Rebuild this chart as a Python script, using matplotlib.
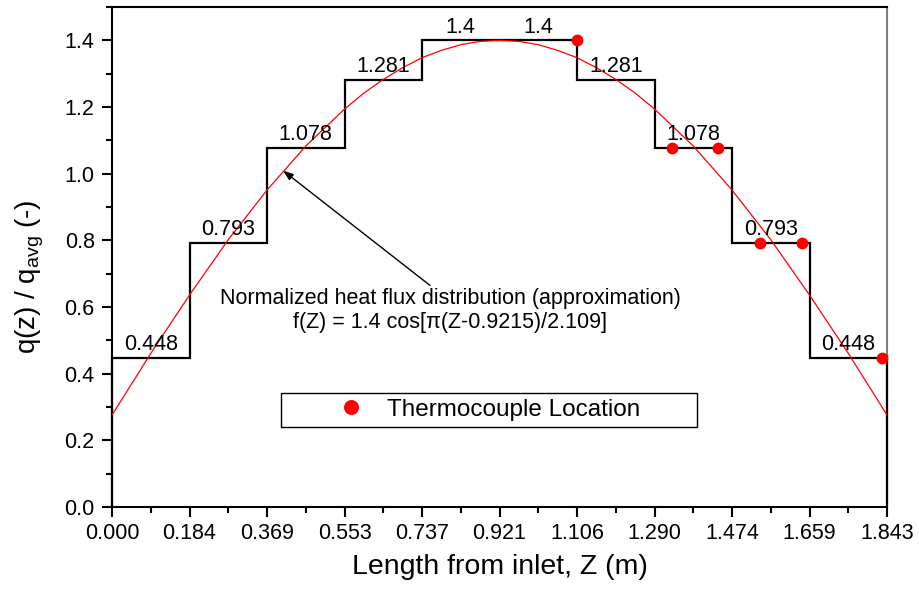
import matplotlib
matplotlib.use("Agg")
import matplotlib.pyplot as plt
from matplotlib.lines import Line2D

plt.rcParams['font.family'] = ['Liberation Sans', 'DejaVu Sans']
plt.rcParams['mathtext.default'] = 'regular'

# step edges (m) and normalized heat flux per section
z_edges = [0.0, 0.1843, 0.3686, 0.5529, 0.7372, 0.9215, 1.1058, 1.2901, 1.4744, 1.6587, 1.843]
q_steps = [0.448, 0.793, 1.078, 1.281, 1.4, 1.4, 1.281, 1.078, 0.793, 0.448]
step_labels = ['0.448', '0.793', '1.078', '1.281', '1.4', '1.4', '1.281', '1.078', '0.793', '0.448']
x_tick_labels = ['0.000', '0.184', '0.369', '0.553', '0.737', '0.921',
                 '1.106', '1.290', '1.474', '1.659', '1.843']

# red approximation curve
curve_z = [0.0, 0.0922, 0.1843, 0.2765, 0.3686, 0.4608, 0.5529, 0.599, 0.6451, 0.6912,
           0.7372, 0.7833, 0.8294, 0.8754, 0.9215, 0.9676, 1.0137, 1.0597, 1.1058, 1.1519,
           1.198, 1.244, 1.2901, 1.3823, 1.4744, 1.5666, 1.6587, 1.7509, 1.843]
curve_q = [0.276, 0.461, 0.636, 0.802, 0.951, 1.083, 1.194, 1.242, 1.283, 1.318,
           1.348, 1.370, 1.387, 1.397, 1.4, 1.397, 1.387, 1.370, 1.348, 1.318,
           1.283, 1.242, 1.194, 1.083, 0.951, 0.802, 0.636, 0.461, 0.276]

# thermocouple positions
tc_z = [1.106, 1.332, 1.442, 1.541, 1.642, 1.832]
tc_q = [1.4, 1.078, 1.078, 0.793, 0.793, 0.448]

fig = plt.figure(figsize=(9.19, 5.96), dpi=100)
ax = fig.add_axes([0.1219, 0.1493, 0.8433, 0.8389])

ax.stairs(q_steps, z_edges, baseline=0, color='black', lw=1.6, zorder=2.6, clip_on=False)
ax.plot(curve_z, curve_q, color='red', lw=0.9, zorder=3)
ax.plot(tc_z, tc_q, 'o', color='red', ms=7.5, zorder=4, clip_on=False)

# section values above each step
for i, lab in enumerate(step_labels):
    zc = (z_edges[i] + z_edges[i + 1]) / 2
    ax.annotate(lab, (zc, q_steps[i]), xytext=(0, 2), textcoords='offset points',
                ha='center', va='bottom', fontsize=15.5)

ax.annotate('', xy=(0.407, 1.009), xytext=(0.756, 0.665),
            arrowprops=dict(arrowstyle='-|>,head_length=0.6,head_width=0.22',
                            color='black', lw=1, shrinkA=0, shrinkB=0))
ax.text(0.804, 0.589, 'Normalized heat flux distribution (approximation)\n'
        'f(Z) = 1.4 cos[π(Z-0.9215)/2.109]',
        ha='center', va='center', fontsize=15.5, linespacing=1.2)

handle = Line2D([], [], marker='o', color='red', ls='none', ms=7.5)
leg = ax.legend([handle], ['Thermocouple Location'], loc='lower left',
                bbox_to_anchor=(0.218, 0.16, 0.537, 0.074), mode='expand',
                fontsize=17.5, frameon=True, fancybox=False, edgecolor='black',
                framealpha=1, borderpad=0.25, handlelength=5.3,
                handletextpad=-1.18, markerscale=1.3, borderaxespad=0)
leg.get_frame().set_linewidth(1.0)

ax.set_xlim(0, 1.843)
ax.set_ylim(0, 1.5)
ax.set_xticks(z_edges)
ax.set_xticklabels(x_tick_labels)
ax.set_xticks([(z_edges[i] + z_edges[i + 1]) / 2 for i in range(10)], minor=True)
ax.set_yticks([0.0, 0.2, 0.4, 0.6, 0.8, 1.0, 1.2, 1.4])
ax.set_yticklabels(['0.0', '0.2', '0.4', '0.6', '0.8', '1.0', '1.2', '1.4'])
ax.set_yticks([0.1, 0.3, 0.5, 0.7, 0.9, 1.1, 1.3, 1.5], minor=True)
ax.tick_params(which='both', direction='out', width=1.5, labelsize=15.5,
               top=False, right=False)
ax.tick_params(which='major', length=7.5)
ax.tick_params(which='minor', length=4.5)
ax.tick_params(axis='x', pad=4)
ax.tick_params(axis='y', pad=5)

for s in ax.spines.values():
    s.set_linewidth(1.5)
ax.spines['right'].set_color('#808080')

ax.set_xlabel('Length from inlet, Z (m)', fontsize=20.5, labelpad=7)
ax.set_ylabel('q(z) / q$_{avg}$ (-)', fontsize=20)
ax.yaxis.set_label_coords(-0.085, 0.46)

fig.savefig('out.png', dpi=100)
